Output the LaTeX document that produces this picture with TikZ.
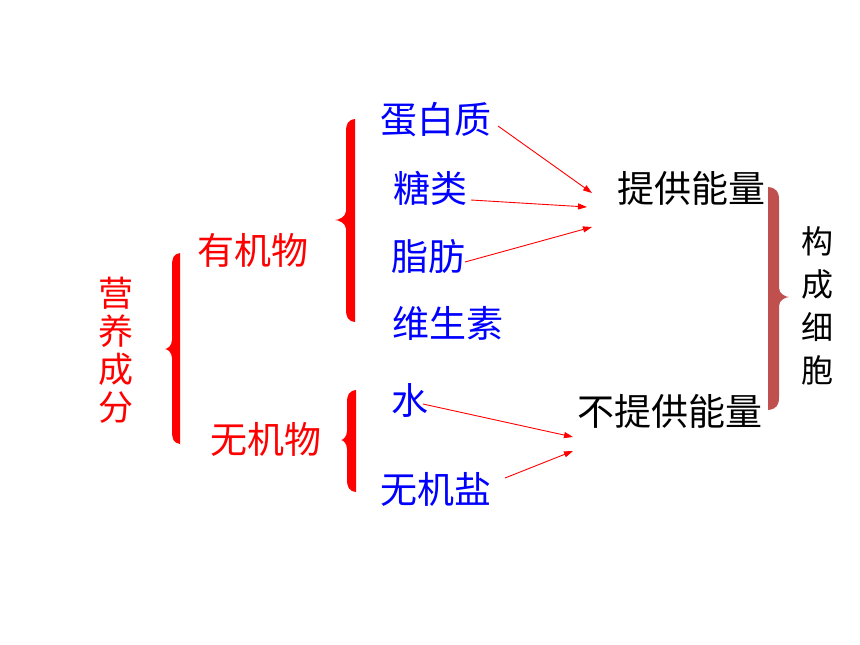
\documentclass[tikz,border=0pt]{standalone}
\usepackage{fontspec}
\newfontfamily\cjk{Noto Sans CJK SC}
\usetikzlibrary{arrows.meta}
\definecolor{tblue}{RGB}{0,0,255}
\definecolor{tred}{RGB}{255,0,0}
\definecolor{bred}{RGB}{192,80,77}
% #1 xv (outer edge of bar), #2 xr (straight edge), #3 y1, #4 y2, #5 xt (tip x), #6 ym (tip y), #7 colour
\newcommand\mybrace[7]{%
  \fill[#7] (#2,#3) .. controls ({#1+0.2*(#2-#1)},{#3+1}) and (#1,{#3+5}) .. (#1,{#3+13})
    -- (#1,{#6-9}) .. controls (#1,{#6-3}) and ({#5+0.3*(#1-#5)},#6) .. (#5,#6)
    .. controls ({#5+0.3*(#1-#5)},#6) and (#1,{#6+3}) .. (#1,{#6+9})
    -- (#1,{#4-13}) .. controls (#1,{#4-5}) and ({#1+0.2*(#2-#1)},{#4-1}) .. (#2,#4) -- cycle;}
\tikzset{
  lbl/.style={font=\cjk\fontsize{37}{40}\selectfont, inner sep=0pt},
  vlbl/.style={inner sep=0pt, align=center},
  arr/.style={draw=tred, line width=0.9pt, -{Triangle[length=9pt,width=6pt]}}
}
\begin{document}
\begin{tikzpicture}[x=1pt,y=-1pt]
\fill[white] (0,0) rectangle (860,645);
\useasboundingbox (0,0) rectangle (860,645);

\node[lbl,text=tblue] (dbz) at (436,120) {蛋白质};
\node[lbl,text=tblue] (tl) at (430,188) {糖类};
\node[lbl,text=tblue] (zf) at (428,256) {脂肪};
\node[lbl,text=tblue] (wss) at (448,323) {维生素};
\node[lbl,text=tred] (yjw) at (253,250) {有机物};
\node[lbl,text=tred] (wjw) at (266,439) {无机物};
\node[lbl,text=tblue] (water) at (410,400) {水};
\node[lbl,text=tblue] (wjy) at (436,489) {无机盐};
\node[lbl] (tg) at (691,188) {提供能量};
\node[lbl] (btg) at (670,411) {不提供能量};
\node[vlbl,text=tred,font=\cjk\fontsize{35}{38}\selectfont] (yy) at (116,350) {营\\养\\成\\分};
\node[vlbl,font=\cjk\fontsize{32}{43}\selectfont] (gc) at (817,306) {构\\成\\细\\胞};

\mybrace{346}{355}{119}{322}{335}{220}{tred}
\mybrace{172}{180}{253}{444}{165}{349}{tred}
\mybrace{347}{356}{390}{492}{341}{440}{tred}
\mybrace{779}{768}{187}{410}{789}{297}{bred}

\coordinate (a1s) at (498,126); \coordinate (a1e) at (592,193);
\coordinate (a2s) at (471,200); \coordinate (a2e) at (587,207);
\coordinate (a3s) at (465,262); \coordinate (a3e) at (592,227);
\coordinate (a4s) at (423,404); \coordinate (a4e) at (573,437);
\coordinate (a5s) at (505,478); \coordinate (a5e) at (573,451);
\draw[arr] (a1s) -- (a1e);
\draw[arr] (a2s) -- (a2e);
\draw[arr] (a3s) -- (a3e);
\draw[arr] (a4s) -- (a4e);
\draw[arr] (a5s) -- (a5e);
\end{tikzpicture}
\end{document}
